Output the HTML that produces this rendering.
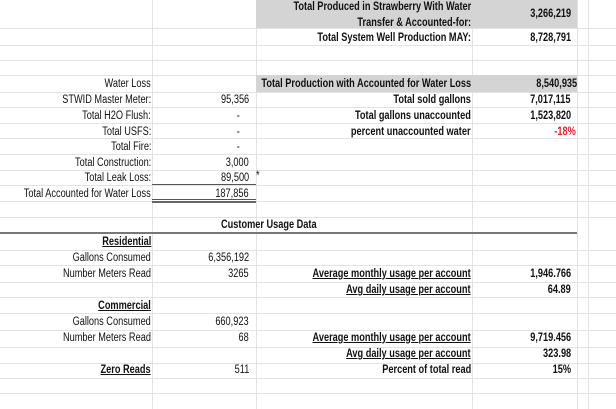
<!DOCTYPE html>
<html><head><meta charset="utf-8"><style>
body{margin:0;width:616px;height:409px;background:#fff;overflow:hidden;position:relative;font-family:"Liberation Sans Narrow","Liberation Sans",Arial,sans-serif;font-size:11.5px;color:#111}
.h{position:absolute;left:0;width:616px;height:1px;background:#e3e3e3}
.v{position:absolute;top:0;height:409px;width:1px;background:#e3e3e3}
.g{position:absolute;background:#d4d4d4}
.t{position:absolute;white-space:nowrap;line-height:14px}
.t span{display:inline-block;transform:scaleX(.80)}
.r span{transform-origin:right center}
.l span{transform-origin:left center}
.b{font-weight:bold}
.u span{text-decoration:underline}
</style></head><body>
<div class="v" style="left:152px"></div><div class="v" style="left:256px"></div><div class="v" style="left:472px"></div><div class="v" style="left:577px"></div><div class="v" style="left:588px"></div>
<div class="h" style="top:28px"></div><div class="h" style="top:45px"></div><div class="h" style="top:60px"></div><div class="h" style="top:75px"></div><div class="h" style="top:92px"></div><div class="h" style="top:107px"></div><div class="h" style="top:123px"></div><div class="h" style="top:138px"></div><div class="h" style="top:154px"></div><div class="h" style="top:170px"></div><div class="h" style="top:185px"></div><div class="h" style="top:201px"></div><div class="h" style="top:217px"></div><div class="h" style="top:250px"></div><div class="h" style="top:265px"></div><div class="h" style="top:282px"></div><div class="h" style="top:297px"></div><div class="h" style="top:313px"></div><div class="h" style="top:330px"></div><div class="h" style="top:347px"></div><div class="h" style="top:363px"></div><div class="h" style="top:378px"></div><div class="h" style="top:393px"></div>
<div class="g" style="left:256px;top:0;width:321px;height:28px"></div>
<div class="g" style="left:256px;top:75px;width:321px;height:17px"></div>
<div style="position:absolute;left:152px;top:184px;width:104px;height:1px;background:#555"></div>
<div style="position:absolute;left:152px;top:199px;width:104px;height:1px;background:#555"></div>
<div style="position:absolute;left:152px;top:201px;width:104px;height:2px;background:#666"></div>
<div style="position:absolute;left:0;top:232px;width:577px;height:2px;background:#777"></div>

<div class="t r b" style="right:145px;top:0"><span>Total Produced in Strawberry With Water</span></div>
<div class="t r b" style="right:145px;top:16px"><span>Transfer &amp; Accounted-for:</span></div>
<div class="t r b" style="right:45px;top:7px"><span>3,266,219</span></div>
<div class="t r b" style="right:145px;top:31px"><span>Total System Well Production MAY:</span></div>
<div class="t r b" style="right:45px;top:31px"><span>8,728,791</span></div>

<div class="t r" style="right:465px;top:77px"><span>Water Loss</span></div>
<div class="t r b" style="right:145px;top:77px"><span>Total Production with Accounted for Water Loss</span></div>
<div class="t r b" style="right:39px;top:77px"><span>8,540,935</span></div>
<div class="t r" style="right:465px;top:93px"><span>STWID Master Meter:</span></div>
<div class="t r" style="right:367px;top:93px"><span>95,356</span></div>
<div class="t r b" style="right:145px;top:93px"><span>Total sold gallons</span></div>
<div class="t r b" style="right:45px;top:93px"><span>7,017,115</span></div>
<div class="t r" style="right:465px;top:109px"><span>Total H2O Flush:</span></div>
<div class="t r" style="right:376px;top:109px"><span>-</span></div>
<div class="t r b" style="right:145px;top:109px"><span>Total gallons unaccounted</span></div>
<div class="t r b" style="right:45px;top:109px"><span>1,523,820</span></div>
<div class="t r" style="right:465px;top:125px"><span>Total USFS:</span></div>
<div class="t r" style="right:376px;top:125px"><span>-</span></div>
<div class="t r b" style="right:145px;top:125px"><span>percent unaccounted water</span></div>
<div class="t r b" style="right:40px;top:125px;color:#e8202a"><span>-18%</span></div>
<div class="t r" style="right:465px;top:140px"><span>Total Fire:</span></div>
<div class="t r" style="right:376px;top:140px"><span>-</span></div>
<div class="t r" style="right:465px;top:156px"><span>Total Construction:</span></div>
<div class="t r" style="right:367px;top:156px"><span>3,000</span></div>
<div class="t r" style="right:465px;top:171px"><span>Total Leak Loss:</span></div>
<div class="t r" style="right:367px;top:171px"><span>89,500</span></div>
<div class="t l" style="left:256px;top:169px"><span>*</span></div>
<div class="t r" style="right:465px;top:187px"><span>Total Accounted for Water Loss</span></div>
<div class="t r" style="right:367px;top:187px"><span>187,856</span></div>

<div class="t l b" style="left:221px;top:218px"><span>Customer Usage Data</span></div>
<div class="t r b u" style="right:465px;top:235px"><span>Residential</span></div>
<div class="t r" style="right:465px;top:251px"><span>Gallons Consumed</span></div>
<div class="t r" style="right:367px;top:251px"><span>6,356,192</span></div>
<div class="t r" style="right:465px;top:267px"><span>Number Meters Read</span></div>
<div class="t r" style="right:367px;top:267px"><span>3265</span></div>
<div class="t r b u" style="right:145px;top:267px"><span>Average monthly usage per account</span></div>
<div class="t r b" style="right:45px;top:267px"><span>1,946.766</span></div>
<div class="t r b u" style="right:145px;top:283px"><span>Avg daily usage per account</span></div>
<div class="t r b" style="right:45px;top:283px"><span>64.89</span></div>
<div class="t r b u" style="right:465px;top:299px"><span>Commercial</span></div>
<div class="t r" style="right:465px;top:315px"><span>Gallons Consumed</span></div>
<div class="t r" style="right:367px;top:315px"><span>660,923</span></div>
<div class="t r" style="right:465px;top:331px"><span>Number Meters Read</span></div>
<div class="t r" style="right:367px;top:331px"><span>68</span></div>
<div class="t r b u" style="right:145px;top:331px"><span>Average monthly usage per account</span></div>
<div class="t r b" style="right:45px;top:331px"><span>9,719.456</span></div>
<div class="t r b u" style="right:145px;top:347px"><span>Avg daily usage per account</span></div>
<div class="t r b" style="right:45px;top:347px"><span>323.98</span></div>
<div class="t r b u" style="right:465px;top:363px"><span>Zero Reads</span></div>
<div class="t r" style="right:367px;top:363px"><span>511</span></div>
<div class="t r b" style="right:145px;top:363px"><span>Percent of total read</span></div>
<div class="t r b" style="right:45px;top:363px"><span>15%</span></div>
</body></html>
